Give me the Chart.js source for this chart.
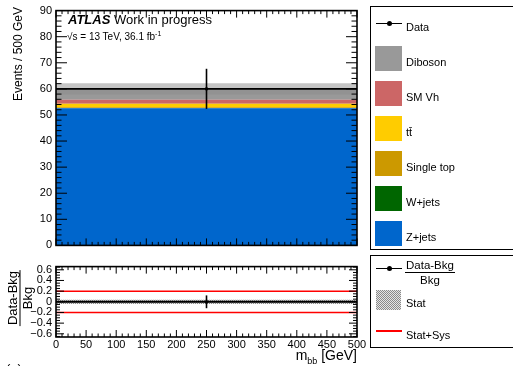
<!DOCTYPE html>
<html>
<head>
<meta charset="utf-8">
<script src="https://cdn.jsdelivr.net/npm/chart.js@4.4.1/dist/chart.umd.min.js"></script>
<style>
body { margin:0; width:513px; height:366px; overflow:hidden; background:#fff; position:relative;
  font-family:"Liberation Sans", Arial, sans-serif; color:#000; }
canvas { position:absolute; left:0; }
.t { position:absolute; white-space:nowrap; line-height:13px; }
.box { position:absolute; border:1.5px solid #000; box-sizing:border-box; }
</style>
</head>
<body>
<canvas id="main" width="370" height="256" style="top:0"></canvas>
<canvas id="ratio" width="370" height="110" style="top:256px"></canvas>

<div class="t" style="left:68px;top:13px;font-size:13px"><b><i>ATLAS</i></b> Work in progress</div>
<div class="t" style="left:67px;top:27px;font-size:10px">&radic;s = 13 TeV, 36.1 fb<sup style="font-size:7px">-1</sup></div>

<div class="t" style="left:18px;top:54px;font-size:12px;transform:translate(-50%,-50%) rotate(-90deg)">Events / 500 GeV</div>
<div class="t" style="left:20px;top:298px;transform:translate(-50%,-50%) rotate(-90deg);font-size:13px;line-height:14px;text-align:center">
  <div style="border-bottom:1px solid #000;padding:0 1px">Data-Bkg</div><div>Bkg</div>
</div>
<div class="t" style="right:156px;top:347px;font-size:14px;line-height:16px">m<sub style="font-size:9px">bb</sub> [GeV]</div>
<div class="t" style="left:6px;top:362px;font-size:13px">(a)</div>

<div class="box" style="left:370px;top:6px;width:160px;height:244px"></div>
<div class="box" style="left:370px;top:255px;width:160px;height:93px"></div>
<div id="legend"></div>

<script>
// bins and values
var binEdges = [0, 500];
var dataCenters = [250];
var dataVals = [60];
var dataErrs = [7.7];

var zjets = [52.6];
var wjets = [0.1];
var singleTop = [0.3];
var ttbar = [1.3];
var smVh = [1.5];
var diboson = [4.2];
var mcErr = [2.2];

var ratioVals = [0];
var ratioErrs = [0.12];
var statErr = [0.04];
var sysErr = [0.2];

var mainYTicks = [0, 10, 20, 30, 40, 50, 60, 70, 80, 90];
var ratioYTicks = [-0.6, -0.4, -0.2, 0, 0.2, 0.4, 0.6];
var xTicks = [0, 50, 100, 150, 200, 250, 300, 350, 400, 450, 500];

// stack order, bottom first
var sampleNames = ['Z+jets', 'W+jets', 'Single top', 'tt\u0304', 'SM Vh', 'Diboson'];
var sampleVals = [zjets, wjets, singleTop, ttbar, smVh, diboson];
var sampleColors = ['#0066cc', '#006600', '#cc9900', '#ffcc00', '#cc6666', '#999999'];

var FONT = '"Liberation Sans", Arial, sans-serif';

function hist(vals) {
  var pts = [];
  for (var i = 0; i < vals.length; i++) pts.push({x: binEdges[i], y: vals[i]});
  pts.push({x: binEdges[vals.length], y: vals[vals.length - 1]});
  return pts;
}

var totalBkg = zjets.map(function (v, i) {
  var s = 0;
  sampleVals.forEach(function (a) { s += a[i]; });
  return s;
});

// checker pattern for stat band
var pc = document.createElement('canvas');
pc.width = 2; pc.height = 2;
var pctx = pc.getContext('2d');
pctx.fillStyle = '#e4e4e4'; pctx.fillRect(0, 0, 2, 2);
pctx.fillStyle = '#8a8a8a'; pctx.fillRect(0, 0, 1, 1); pctx.fillRect(1, 1, 1, 1);

function line(ctx, x1, y1, x2, y2) {
  ctx.beginPath(); ctx.moveTo(x1, y1); ctx.lineTo(x2, y2); ctx.stroke();
}

// ATLAS style inward ticks on all four sides + frame
var framePlugin = {
  id: 'frame',
  afterDraw: function (chart, args, o) {
    var ctx = chart.ctx, a = chart.chartArea, x = chart.scales.x, y = chart.scales.y;
    ctx.save();
    ctx.strokeStyle = '#000';
    ctx.lineWidth = 1;
    var v, px, major, len;
    for (v = Math.ceil(x.min / o.xMinor) * o.xMinor; v <= x.max + 1e-9; v += o.xMinor) {
      px = x.getPixelForValue(v);
      major = Math.abs(v / o.xMajor - Math.round(v / o.xMajor)) < 1e-6;
      len = major ? o.xLen : o.xLen / 2;
      line(ctx, px, a.bottom, px, a.bottom - len);
      line(ctx, px, a.top, px, a.top + len);
    }
    var n0 = Math.ceil(y.min / o.yMinor - 1e-9);
    for (var k = n0; k * o.yMinor <= y.max + 1e-9; k++) {
      v = k * o.yMinor;
      px = y.getPixelForValue(v);
      major = Math.abs(v / o.yMajor - Math.round(v / o.yMajor)) < 1e-6;
      len = major ? o.yLen : o.yLen / 2;
      line(ctx, a.left, px, a.left + len, px);
      line(ctx, a.right, px, a.right - len, px);
    }
    ctx.lineWidth = 1.6;
    ctx.strokeRect(a.left, a.top, a.right - a.left, a.bottom - a.top);
    ctx.restore();
  }
};

var errPlugin = {
  id: 'errbars',
  afterDatasetsDraw: function (chart, args, o) {
    var ctx = chart.ctx, x = chart.scales.x, y = chart.scales.y;
    ctx.save();
    ctx.strokeStyle = '#000';
    ctx.lineWidth = 1.6;
    o.xs.forEach(function (xv, i) {
      var px = x.getPixelForValue(xv);
      line(ctx, px, y.getPixelForValue(o.ys[i] - o.errs[i]), px, y.getPixelForValue(o.ys[i] + o.errs[i]));
    });
    ctx.restore();
  }
};

// main panel
var mainSets = sampleVals.map(function (vals, i) {
  return {
    label: sampleNames[i], data: hist(vals), stack: 'mc', order: 3,
    backgroundColor: sampleColors[i], borderWidth: 0, pointRadius: 0,
    fill: i === 0 ? 'origin' : '-1', stepped: 'after'
  };
});
mainSets.push({
  label: 'bandlo', data: hist(totalBkg.map(function (t, i) { return t - mcErr[i]; })), stack: 'band', order: 2,
  borderWidth: 0, pointRadius: 0, fill: false, stepped: 'after'
});
mainSets.push({
  label: 'band', data: hist(mcErr.map(function (e) { return 2 * e; })), stack: 'band', order: 2,
  backgroundColor: 'rgba(140,140,140,0.5)', borderWidth: 0, pointRadius: 0, fill: '-1', stepped: 'after'
});
mainSets.push({
  label: 'Data', data: hist(dataVals), stack: 'data', order: 1,
  borderColor: '#000', borderWidth: 1.6, pointRadius: 0, fill: false, stepped: 'after'
});
mainSets.push({
  label: 'DataPt', data: dataCenters.map(function (c, i) { return {x: c, y: dataVals[i]}; }), stack: 'pt', order: 0,
  showLine: false, pointStyle: 'rect', pointRadius: 2, backgroundColor: '#000', borderColor: '#000', borderWidth: 0
});

var tickFont = {family: FONT, size: 11};

new Chart(document.getElementById('main'), {
  type: 'line',
  data: {datasets: mainSets},
  options: {
    responsive: false, animation: false,
    layout: {padding: {left: 0, top: 6, right: 13, bottom: 6}},
    plugins: {
      legend: {display: false}, tooltip: {enabled: false},
      frame: {xMinor: 10, xMajor: 50, xLen: 7, yMinor: 2, yMajor: 10, yLen: 11},
      errbars: {xs: dataCenters, ys: dataVals, errs: dataErrs}
    },
    scales: {
      x: {type: 'linear', min: binEdges[0], max: binEdges[binEdges.length - 1], display: false},
      y: {
        stacked: true, min: 0, max: 90,
        afterBuildTicks: function (s) { s.ticks = mainYTicks.map(function (v) { return {value: v}; }); },
        afterFit: function (s) { s.width = 56; },
        grid: {display: false, drawTicks: false}, border: {display: false},
        ticks: {font: tickFont, color: '#000', padding: 4, autoSkip: false}
      }
    }
  },
  plugins: [framePlugin, errPlugin]
});

// ratio panel
var statPattern = document.getElementById('ratio').getContext('2d').createPattern(pc, 'repeat');
var ratioSets = [
  {label: 'Stat', data: hist(statErr), fill: {value: -statErr[0]}, backgroundColor: statPattern,
    borderWidth: 0, pointRadius: 0, stepped: 'after', order: 3},
  {label: 'sysUp', data: hist(sysErr), borderColor: '#ff0000', borderWidth: 1.5, pointRadius: 0, fill: false, stepped: 'after', order: 2},
  {label: 'sysDn', data: hist(sysErr.map(function (e) { return -e; })), borderColor: '#ff0000', borderWidth: 1.5, pointRadius: 0, fill: false, stepped: 'after', order: 2},
  {label: 'Ratio', data: hist(ratioVals), borderColor: '#000', borderWidth: 2, pointRadius: 0, fill: false, stepped: 'after', order: 1},
  {label: 'RatioPt', data: dataCenters.map(function (c, i) { return {x: c, y: ratioVals[i]}; }), showLine: false,
    pointStyle: 'rect', pointRadius: 2, backgroundColor: '#000', borderWidth: 0, order: 0}
];

new Chart(document.getElementById('ratio'), {
  type: 'line',
  data: {datasets: ratioSets},
  options: {
    responsive: false, animation: false,
    layout: {padding: {left: 0, top: 5.7, right: 13, bottom: 0}},
    plugins: {
      legend: {display: false}, tooltip: {enabled: false},
      frame: {xMinor: 10, xMajor: 50, xLen: 7, yMinor: 0.05, yMajor: 0.2, yLen: 8},
      errbars: {xs: dataCenters, ys: ratioVals, errs: ratioErrs}
    },
    scales: {
      x: {
        type: 'linear', min: binEdges[0], max: binEdges[binEdges.length - 1],
        afterBuildTicks: function (s) { s.ticks = xTicks.map(function (v) { return {value: v}; }); },
        afterFit: function (s) { s.height = 29; },
        grid: {display: false, drawTicks: false}, border: {display: false},
        ticks: {font: tickFont, color: '#000', padding: 1, maxRotation: 0, autoSkip: false}
      },
      y: {
        min: -0.66, max: 0.66,
        afterBuildTicks: function (s) { s.ticks = ratioYTicks.map(function (v) { return {value: v}; }); },
        afterFit: function (s) { s.width = 56; },
        grid: {display: false, drawTicks: false}, border: {display: false},
        ticks: {font: tickFont, color: '#000', padding: 4, autoSkip: false,
          callback: function (v) { var r = Math.round(v * 10) / 10; return r < 0 ? '\u2212' + (-r) : String(r); }}
      }
    }
  },
  plugins: [framePlugin, errPlugin]
});

// legends (html)
var leg = document.getElementById('legend');
function add(html, style) {
  var d = document.createElement('div');
  d.className = 't';
  d.style.cssText = style;
  d.innerHTML = html;
  leg.appendChild(d);
}
function dataMarker(cy) {
  add('', 'left:376px;top:' + (cy - 0.8) + 'px;width:26px;height:1.6px;background:#000');
  add('', 'left:386.5px;top:' + (cy - 2.5) + 'px;width:5px;height:5px;border-radius:50%;background:#000');
}
dataMarker(23.5);
add('Data', 'left:406px;top:20.5px;font-size:11px');
for (var i = sampleNames.length - 1, row = 0; i >= 0; i--, row++) {
  var cy = 62 + row * 35;
  add('', 'left:375px;top:' + (cy - 16) + 'px;width:27px;height:25px;background:' + sampleColors[i]);
  add(sampleNames[i], 'left:406px;top:' + (cy - 6.5) + 'px;font-size:11px');
}
dataMarker(268.5);
add('<div style="border-bottom:1px solid #000;padding:0 1px">Data-Bkg</div><div style="text-align:center">Bkg</div>',
  'left:405px;top:258px;font-size:11.5px;line-height:14px');
add('', 'left:376px;top:290px;width:25px;height:20px;background-image:url(' + pc.toDataURL() + ')');
add('Stat', 'left:406px;top:297px;font-size:11px');
add('', 'left:376px;top:330px;width:26px;height:1.5px;background:#ff0000');
add('Stat+Sys', 'left:406px;top:329px;font-size:11px');
</script>
</body>
</html>
